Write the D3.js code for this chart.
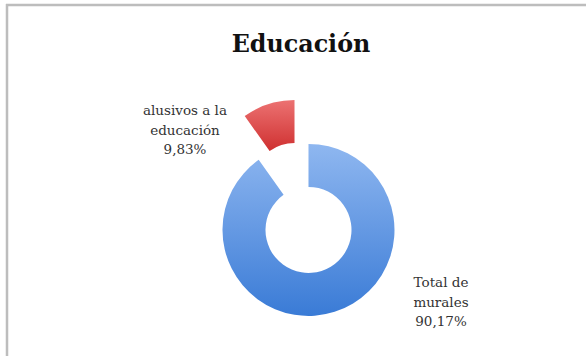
<!DOCTYPE html>
<html>
<head>
<meta charset="utf-8">
<script src="https://cdn.jsdelivr.net/npm/d3@7/dist/d3.min.js"></script>
<style>
  html, body { margin: 0; padding: 0; background: #fff; }
  svg { display: block; }
  .serif { font-family: "DejaVu Serif", serif; }
</style>
</head>
<body>
<script>
// Doughnut: share of murals about education
const categories = ["Total de murales", "alusivos a la educación"];
const values = [90.17, 9.83];
const labelLines = [["Total de", "murales", "90,17%"], ["alusivos a la", "educación", "9,83%"]];
const title = "Educación";

const W = 586, H = 356;
const svg = d3.select("body").append("svg").attr("width", W).attr("height", H);

// frame: top and left edges only
svg.append("rect").attr("x", 0).attr("y", 0).attr("width", W).attr("height", H).attr("fill", "#fff");
svg.append("line").attr("x1", 6).attr("x2", W).attr("y1", 5).attr("y2", 5)
  .attr("stroke", "#bdbdbd").attr("stroke-width", 2.5);
svg.append("line").attr("x1", 7).attr("x2", 7).attr("y1", 4).attr("y2", H)
  .attr("stroke", "#bdbdbd").attr("stroke-width", 2.5);

svg.append("text")
  .attr("class", "serif")
  .attr("x", 301).attr("y", 52)
  .attr("text-anchor", "middle")
  .attr("font-weight", "bold")
  .attr("font-size", 23.8)
  .attr("fill", "#111")
  .text(title);

const defs = svg.append("defs");
const grads = [
  { id: "gBlue", top: "#8fb7f0", bottom: "#3a7bd6" },
  { id: "gRed", top: "#ec7272", bottom: "#cf3030" }
];
grads.forEach(g => {
  const lg = defs.append("linearGradient").attr("id", g.id)
    .attr("x1", 0).attr("y1", 0).attr("x2", 0).attr("y2", 1);
  lg.append("stop").attr("offset", "0%").attr("stop-color", g.top);
  lg.append("stop").attr("offset", "100%").attr("stop-color", g.bottom);
});

const cx = 301.5, cy = 208, rOuter = 86, rInner = 43, explode = 23;
const pie = d3.pie().sort(null).value(d => d);
const arc = d3.arc().innerRadius(rInner).outerRadius(rOuter);
const arcs = pie(values);

const g = svg.append("g").attr("transform", `translate(${cx},${cy})`);
g.selectAll("path").data(arcs).join("path")
  .attr("d", arc)
  .attr("fill", (d, i) => `url(#${grads[i].id})`)
  .attr("transform", d => {
    const a = (d.startAngle + d.endAngle) / 2;
    return `translate(${explode * Math.sin(a)},${-explode * Math.cos(a)})`;
  });

// labels beside each slice
const labelPos = [{ x: 441, y: 287 }, { x: 185, y: 115 }];
labelLines.forEach((lines, i) => {
  const t = svg.append("text")
    .attr("class", "serif")
    .attr("text-anchor", "middle")
    .attr("font-size", 13.5)
    .attr("fill", "#333");
  lines.forEach((s, j) => {
    t.append("tspan").attr("x", labelPos[i].x).attr("y", labelPos[i].y + j * 19.5).text(s);
  });
});
</script>
</body>
</html>
